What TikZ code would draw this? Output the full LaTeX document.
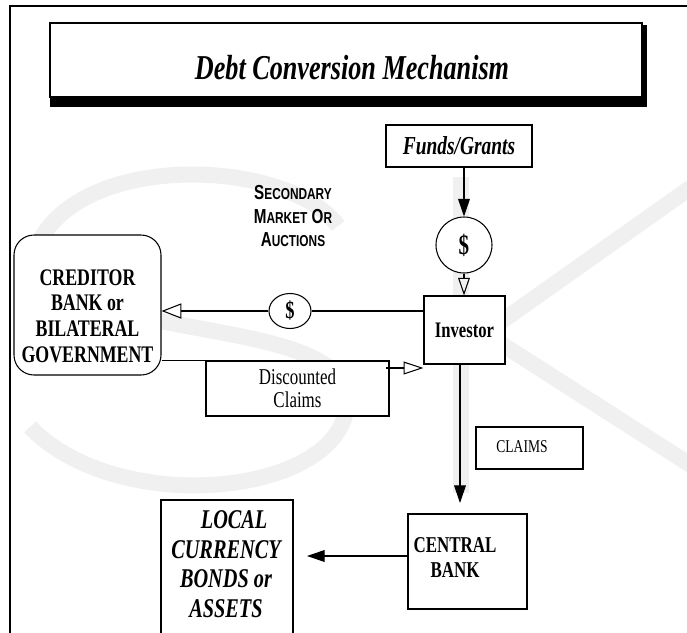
\documentclass[tikz,border=0pt]{standalone}
\usepackage{fontspec}
\setmainfont{Liberation Serif}[FakeStretch=0.75]
\newfontfamily\capsfont{Liberation Sans}[FakeStretch=0.75]
\usetikzlibrary{arrows.meta,shapes.geometric}
\newcommand{\smallcap}[2]{#1{\fontsize{13.5}{20}\selectfont #2}}

\begin{document}
\begin{tikzpicture}[x=0.3mm,y=-0.3mm,
    box/.style={draw,fill=white,line width=0.9pt,inner sep=0pt},
    coin/.style={draw,fill=white,line width=0.9pt,inner sep=0pt},
    wm/.style={draw=black!6,line width=4.8mm},
    fillarrow/.style={line width=0.9pt,-{Triangle[length=15pt,width=10pt]}},
    openarrow/.style={line width=0.9pt,-{Triangle[open,length=17pt,width=11pt]}}]

  \useasboundingbox (0,0) rectangle (687,632);
  \clip (0,0) rectangle (687,632);

  % watermark
  \draw[wm] (338,226) .. controls (290,160) and (90,150) .. (40,240)
    .. controls (20,290) and (110,310) .. (165,322)
    .. controls (260,340) and (345,350) .. (347,400)
    .. controls (348,495) and (120,520) .. (30,427);
  \draw[wm] (461,177) -- (461,493);
  \draw[wm] (461,350) -- (700,181);
  \draw[wm] (461,318) -- (700,471);

  \draw[line width=0.9pt] (10,6) rectangle (720,700);

  % title
  \fill (50,97) rectangle (647,107);
  \fill (642,25) rectangle (647,107);
  \node[box,minimum width=177.6mm,minimum height=22.2mm] (title) at (346,60) {};
  \node[font=\fontsize{29.8}{34}\selectfont\bfseries\itshape] (titletxt) at (352,68) {Debt Conversion Mechanism};

  \node[box,minimum width=43.8mm,minimum height=12.6mm,
    font=\fontsize{22.1}{26}\selectfont\bfseries\itshape] (funds) at (459,146) {Funds/Grants};
  \node[coin,circle,minimum size=16.8mm,font=\fontsize{24}{28}\selectfont\bfseries] (coinA) at (464,245) {\$};
  \node[box,minimum width=24.3mm,minimum height=20.4mm,
    font=\fontsize{18.9}{22}\selectfont\bfseries] (inv) at (464.5,330) {Investor};
  \node[coin,ellipse,minimum width=12.6mm,minimum height=10.5mm,
    font=\fontsize{21}{24}\selectfont\bfseries] (coinB) at (290,311) {\$};

  \node[box,rounded corners=6mm,minimum width=44.1mm,minimum height=42mm] (cred) at (87.5,305) {};
  \node[align=center,font=\fontsize{20.3}{21.8}\selectfont\bfseries] (credtxt) at (87.5,316)
    {CREDITOR\\BANK or\\BILATERAL\\GOVERNMENT};

  \node[align=center,font=\capsfont\fontsize{17.3}{20}\selectfont\bfseries] (sec) at (293,216)
    {\smallcap{S}{ECONDARY}\\\smallcap{M}{ARKET} \smallcap{O}{R}\\\smallcap{A}{UCTIONS}};

  \node[box,minimum width=54.9mm,minimum height=16.5mm,align=center,
    font=\fontsize{19.3}{19.6}\selectfont] (disc) at (297.5,388.5) {Discounted\\Claims};

  \node[box,minimum width=32.1mm,minimum height=12.6mm] (claims) at (529.5,448) {};
  \node[font=\fontsize{15.4}{18}\selectfont] (claimstxt) at (522,447) {CLAIMS};

  \node[box,minimum width=35.7mm,minimum height=28.5mm] (cb) at (467.5,561.5) {};
  \node[align=center,font=\fontsize{19.3}{21.3}\selectfont\bfseries] (cbtxt) at (455,558) {CENTRAL\\BANK};

  \node[box,minimum width=39.6mm,minimum height=48mm] (lc) at (227,580) {};
  \node[align=center,font=\fontsize{23.1}{25.2}\selectfont\bfseries\itshape] (lctxt) at (226,564)
    {\hspace*{0.6em}LOCAL\\CURRENCY\\BONDS or\\ASSETS};

  % connectors
  \draw[fillarrow] (funds.south -| coinA) -- (coinA.north);
  \draw[openarrow,-{Triangle[open,length=15pt,width=10pt]}] (coinA.south) -- (inv.north -| coinA);
  \draw[line width=0.9pt] (inv.west |- coinB) -- (coinB.east);
  \draw[openarrow,-{Triangle[open,length=17pt,width=13pt]}] (coinB.west) -- (cred.east |- coinB);
  \draw[line width=1.6pt] (cred.east |- disc.north) -- (disc.north west);
  \coordinate (dcl) at (386,368);
  \draw[openarrow] (dcl) -- (inv.west |- dcl);
  \coordinate (cbtip) at (460,503);
  \draw[fillarrow] (inv.south -| cbtip) -- (cbtip);
  \coordinate (lctip) at (307,556);
  \draw[fillarrow] (cb.west |- lctip) -- (lctip);
\end{tikzpicture}
\end{document}
